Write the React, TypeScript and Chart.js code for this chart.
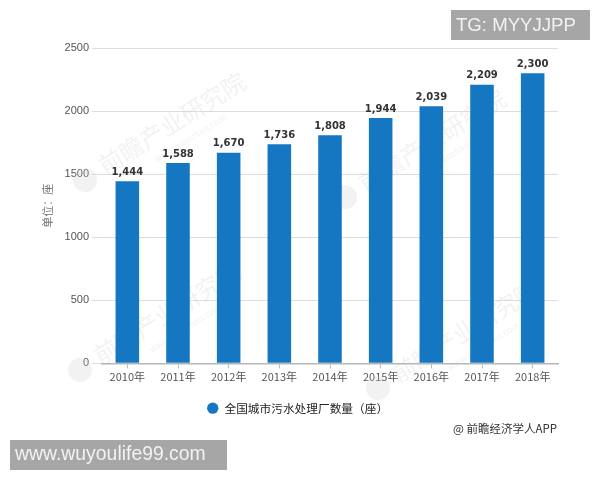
import React, { useEffect, useRef } from "react";
import { Chart, registerables } from "chart.js";

Chart.register(...registerables);

const years = ["2010年", "2011年", "2012年", "2013年", "2014年", "2015年", "2016年", "2017年", "2018年"];
const plants = [1444, 1588, 1670, 1736, 1808, 1944, 2039, 2209, 2300];

const seriesName = "全国城市污水处理厂数量（座）";
const unitLabel = "单位：座";
const creditText = "@ 前瞻经济学人APP";
const watermarkText = "前瞻产业研究院";
const watermarkSub = "www.qianzhan.com";
// logo spot of each watermark, the text runs up and to the right from it
const watermarkAt = [
	[85, 180],
	[80, 370],
	[345, 197],
	[378, 388],
];

const cjk = '"Noto Sans CJK SC", "Noto Sans", sans-serif';

const barColor = "#1577c1";

const watermarkPlugin = {
	id: "watermark",
	beforeDatasetsDraw(chart: Chart) {
		const ctx = chart.ctx;
		ctx.save();
		watermarkAt.forEach(([x, y]) => {
			ctx.save();
			ctx.translate(x, y);
			ctx.rotate((-32 * Math.PI) / 180);
			ctx.fillStyle = "rgba(205,205,205,0.25)";
			ctx.beginPath();
			ctx.arc(0, 0, 12, 0, Math.PI * 2);
			ctx.fill();
			ctx.font = "24px " + cjk;
			ctx.textBaseline = "middle";
			ctx.textAlign = "left";
			ctx.fillText(watermarkText, 20, -2);
			ctx.font = "9px " + cjk;
			ctx.fillText(watermarkSub, 70, 20);
			ctx.restore();
		});
		ctx.restore();
	},
};

const valueLabelPlugin = {
	id: "valueLabels",
	afterDatasetsDraw(chart: Chart) {
		const ctx = chart.ctx;
		const meta = chart.getDatasetMeta(0);
		ctx.save();
		ctx.font = 'bold 10px "DejaVu Sans", sans-serif';
		ctx.fillStyle = "#333333";
		ctx.textAlign = "center";
		ctx.textBaseline = "bottom";
		meta.data.forEach((bar: any, i: number) => {
			ctx.fillText(plants[i].toLocaleString("en-US"), bar.x, bar.y - 4);
		});
		ctx.restore();
	},
};

const overlayPlugin = {
	id: "overlays",
	afterDraw(chart: Chart) {
		const ctx = chart.ctx;
		ctx.save();
		ctx.fillStyle = "#333333";
		ctx.font = "11.5px " + cjk;
		ctx.textAlign = "right";
		ctx.textBaseline = "middle";
		ctx.fillText(creditText, 557, 429);

		ctx.fillStyle = "#a6a6a6";
		ctx.fillRect(451, 10, 139, 30);
		ctx.fillRect(10, 440, 217, 30);
		ctx.fillStyle = "#f2f2f2";
		ctx.textAlign = "left";
		ctx.font = '18.6px "Liberation Sans", sans-serif';
		ctx.fillText("TG: MYYJJPP", 456, 26);
		ctx.font = '19.4px "Liberation Sans", sans-serif';
		ctx.fillText("www.wuyoulife99.com", 15, 455);
		ctx.restore();
	},
};

export default function App() {
	const canvasRef = useRef<HTMLCanvasElement>(null);

	useEffect(() => {
		const chart = new Chart(canvasRef.current!, {
			type: "bar",
			data: {
				labels: years,
				datasets: [
					{
						label: seriesName,
						data: plants,
						backgroundColor: barColor,
						borderWidth: 0,
						categoryPercentage: 0.465,
						barPercentage: 1,
					},
				],
			},
			options: {
				animation: false,
				responsive: false,
				layout: { padding: { left: 37, right: 42, top: 48, bottom: 56 } },
				plugins: {
					tooltip: { enabled: false },
					legend: {
						position: "bottom",
						labels: {
							usePointStyle: true,
							pointStyle: "circle",
							boxWidth: 12,
							boxHeight: 8,
							padding: 6,
							color: "#222222",
							font: { size: 11.7, family: cjk },
						},
					},
				},
				scales: {
					x: {
						afterFit: (scale: any) => {
							scale.height = 33;
						},
						grid: {
							drawOnChartArea: false,
							drawTicks: true,
							tickLength: 5,
							offset: false,
							color: "#bbbbbb",
						},
						border: { color: "#b5b5b5", width: 1.5 },
						ticks: { color: "#555555", font: { size: 11, family: cjk }, maxRotation: 0, padding: 2 },
					},
					y: {
						min: 0,
						max: 2500,
						afterFit: (scale: any) => {
							scale.width = 65;
						},
						grid: { color: "#dddddd", tickLength: 10, lineWidth: 1 },
						border: { display: false },
						ticks: {
							stepSize: 500,
							color: "#555555",
							font: { size: 11, family: '"Liberation Sans", sans-serif' },
							padding: 3,
							callback: (v: any) => String(v),
						},
						title: {
							display: true,
							text: unitLabel,
							color: "#777777",
							font: { size: 11, family: cjk },
							padding: { top: 4, bottom: 0 },
						},
					},
				},
			},
			plugins: [watermarkPlugin, valueLabelPlugin, overlayPlugin],
		});

		return () => {
			chart.destroy();
		};
	}, []);

	return (
		<div style={{ position: "fixed", left: 0, top: 0, width: 600, height: 480 }}>
			<canvas ref={canvasRef} width={600} height={480} style={{ display: "block" }} />
		</div>
	);
}
